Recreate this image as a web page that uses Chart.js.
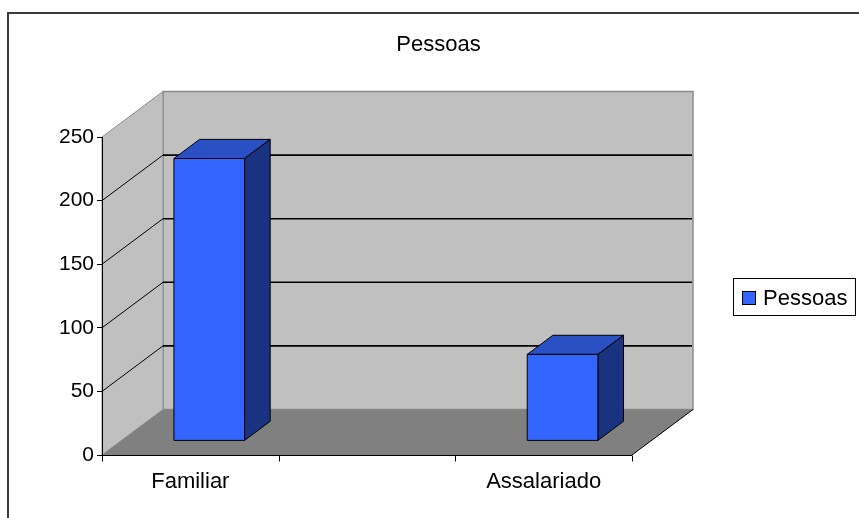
<!DOCTYPE html>
<html>
<head>
<meta charset="utf-8">
<title>Pessoas</title>
<script src="https://cdn.jsdelivr.net/npm/chart.js@4/dist/chart.umd.min.js"></script>
<style>
  html, body { margin: 0; padding: 0; background: #fff; }
  canvas { display: block; }
</style>
</head>
<body>
<canvas id="chart" width="859" height="518"></canvas>
<script>
// Chart data
const categories = ['Familiar', '', 'Assalariado'];
const pessoas = [222, null, 68];
const seriesName = 'Pessoas';
const yTicks = [0, 50, 100, 150, 200, 250];

const FONT = '"Liberation Sans", Arial, sans-serif';

// Depth of the 3D box (walls/floor) and where the bars sit inside it
const DEPTH_X = 61;
const DEPTH_Y = -45.5;
const BAR_FRONT = 0.31;
const BAR_BACK = 0.73;

function poly(ctx, pts, fill, stroke, lw) {
    ctx.beginPath();
    ctx.moveTo(pts[0][0], pts[0][1]);
    for (let i = 1; i < pts.length; i++) ctx.lineTo(pts[i][0], pts[i][1]);
    ctx.closePath();
    if (fill) { ctx.fillStyle = fill; ctx.fill(); }
    if (stroke) { ctx.strokeStyle = stroke; ctx.lineWidth = lw || 1; ctx.stroke(); }
}

// Walls, floor, gridlines, frame and title
const box3d = {
    id: 'box3d',
    beforeDraw(chart) {
        const ctx = chart.ctx;
        const area = chart.chartArea;
        const ys = chart.scales.y;
        const L = area.left, R = area.right;
        const y0 = ys.getPixelForValue(0);
        const yTop = ys.getPixelForValue(yTicks[yTicks.length - 1]);
        ctx.save();

        // outer frame
        ctx.strokeStyle = '#3a3a3a';
        ctx.lineWidth = 2;
        ctx.strokeRect(8, 13, 900, 600);

        // title
        ctx.fillStyle = '#000';
        ctx.font = '22px ' + FONT;
        ctx.textAlign = 'center';
        ctx.textBaseline = 'alphabetic';
        ctx.fillText(seriesName, 438.5, 51);

        // back wall
        poly(ctx, [[L + DEPTH_X, yTop + DEPTH_Y], [R + DEPTH_X, yTop + DEPTH_Y],
                   [R + DEPTH_X, y0 + DEPTH_Y], [L + DEPTH_X, y0 + DEPTH_Y]], '#c0c0c0', '#8c8c8c', 1.5);
        // side wall
        poly(ctx, [[L, yTop], [L + DEPTH_X, yTop + DEPTH_Y],
                   [L + DEPTH_X, y0 + DEPTH_Y], [L, y0]], '#c0c0c0', '#8c8c8c', 1);
        // floor
        poly(ctx, [[L, y0], [L + DEPTH_X, y0 + DEPTH_Y],
                   [R + DEPTH_X, y0 + DEPTH_Y], [R, y0]], '#808080', null);
        ctx.strokeStyle = '#000';
        ctx.lineWidth = 1;
        ctx.beginPath();
        ctx.moveTo(R, y0);
        ctx.lineTo(R + DEPTH_X, y0 + DEPTH_Y);
        ctx.stroke();

        // gridlines on both walls
        ys.ticks.forEach(t => {
            if (t.value === 0 || t.value === yTicks[yTicks.length - 1]) return;
            const y = ys.getPixelForValue(t.value);
            ctx.strokeStyle = '#000';
            ctx.lineWidth = 1;
            ctx.beginPath();
            ctx.moveTo(L, y);
            ctx.lineTo(L + DEPTH_X, y + DEPTH_Y);
            ctx.stroke();
            ctx.lineWidth = 1.6;
            ctx.beginPath();
            ctx.moveTo(L + DEPTH_X, y + DEPTH_Y);
            ctx.lineTo(R + DEPTH_X - 1, y + DEPTH_Y);
            ctx.stroke();
        });
        ctx.restore();
    },

    // draw the bars as 3D columns instead of flat rectangles
    beforeDatasetsDraw(chart) {
        const ctx = chart.ctx;
        chart.data.datasets.forEach((ds, di) => {
            const meta = chart.getDatasetMeta(di);
            meta.data.forEach((bar, i) => {
                if (ds.data[i] == null) return;
                const p = bar.getProps(['x', 'y', 'base', 'width'], true);
                const fx = DEPTH_X * BAR_FRONT, fy = DEPTH_Y * BAR_FRONT;
                const ox = DEPTH_X * (BAR_BACK - BAR_FRONT), oy = DEPTH_Y * (BAR_BACK - BAR_FRONT);
                const x1 = p.x - p.width / 2 + fx, x2 = p.x + p.width / 2 + fx;
                const yt = p.y + fy, yb = p.base + fy;
                ctx.save();
                ctx.lineJoin = 'round';
                // top
                poly(ctx, [[x1, yt], [x1 + ox, yt + oy], [x2 + ox, yt + oy], [x2, yt]], '#2a50c4', '#000', 1);
                // side
                poly(ctx, [[x2, yt], [x2 + ox, yt + oy], [x2 + ox, yb + oy], [x2, yb]], '#1a3380', '#000', 1);
                // front
                poly(ctx, [[x1, yt], [x2, yt], [x2, yb], [x1, yb]], ds.backgroundColor, '#000', 1);
                ctx.restore();
            });
        });
        return false;
    },

    // floor front edge, category boundary ticks and legend box
    afterDraw(chart) {
        const ctx = chart.ctx;
        const xs = chart.scales.x;
        const y0 = Math.round(chart.scales.y.getPixelForValue(0)) + 0.5;
        ctx.save();
        ctx.strokeStyle = '#000';
        ctx.lineWidth = 1;
        ctx.beginPath();
        ctx.moveTo(xs.left, y0);
        ctx.lineTo(xs.right, y0);
        ctx.stroke();
        const n = categories.length;
        const step = (xs.right - xs.left) / n;
        for (let i = 0; i <= n; i++) {
            const x = Math.round(xs.left + step * i) + 0.5;
            ctx.beginPath();
            ctx.moveTo(x, y0);
            ctx.lineTo(x, y0 + 6);
            ctx.stroke();
        }

        const ds = chart.data.datasets[0];
        ctx.fillStyle = '#fff';
        ctx.fillRect(733.5, 278.5, 122, 37);
        ctx.strokeRect(733.5, 278.5, 122, 37);
        ctx.fillStyle = ds.backgroundColor;
        ctx.fillRect(742.5, 291.5, 13, 13);
        ctx.strokeRect(742.5, 291.5, 13, 13);
        ctx.fillStyle = '#000';
        ctx.font = '22px ' + FONT;
        ctx.textAlign = 'left';
        ctx.textBaseline = 'alphabetic';
        ctx.fillText(ds.label, 763, 305);
        ctx.restore();
    }
};

new Chart(document.getElementById('chart'), {
    type: 'bar',
    data: {
        labels: categories,
        datasets: [{
            label: seriesName,
            data: pessoas,
            backgroundColor: '#3366ff',
            borderColor: '#000',
            borderWidth: 1,
            barPercentage: 0.4,
            categoryPercentage: 1
        }]
    },
    options: {
        responsive: false,
        animation: false,
        layout: { padding: { top: 137, right: 227, bottom: 0, left: 0 } },
        plugins: {
            legend: { display: false },
            title: { display: false },
            tooltip: { enabled: false }
        },
        scales: {
            x: {
                afterFit(scale) { scale.height = 63; },
                grid: { display: false },
                border: { display: false },
                ticks: { color: '#000', padding: 6, font: { family: FONT, size: 22 }, maxRotation: 0 }
            },
            y: {
                min: 0,
                max: yTicks[yTicks.length - 1],
                afterFit(scale) { scale.width = 102; },
                afterBuildTicks(scale) { scale.ticks = yTicks.map(v => ({ value: v })); },
                grid: { drawOnChartArea: false, drawTicks: true, tickLength: 5, color: '#000' },
                border: { display: true, color: '#000', width: 1 },
                ticks: { color: '#000', padding: 3, font: { family: FONT, size: 21 } }
            }
        }
    },
    plugins: [box3d]
});
</script>
</body>
</html>
